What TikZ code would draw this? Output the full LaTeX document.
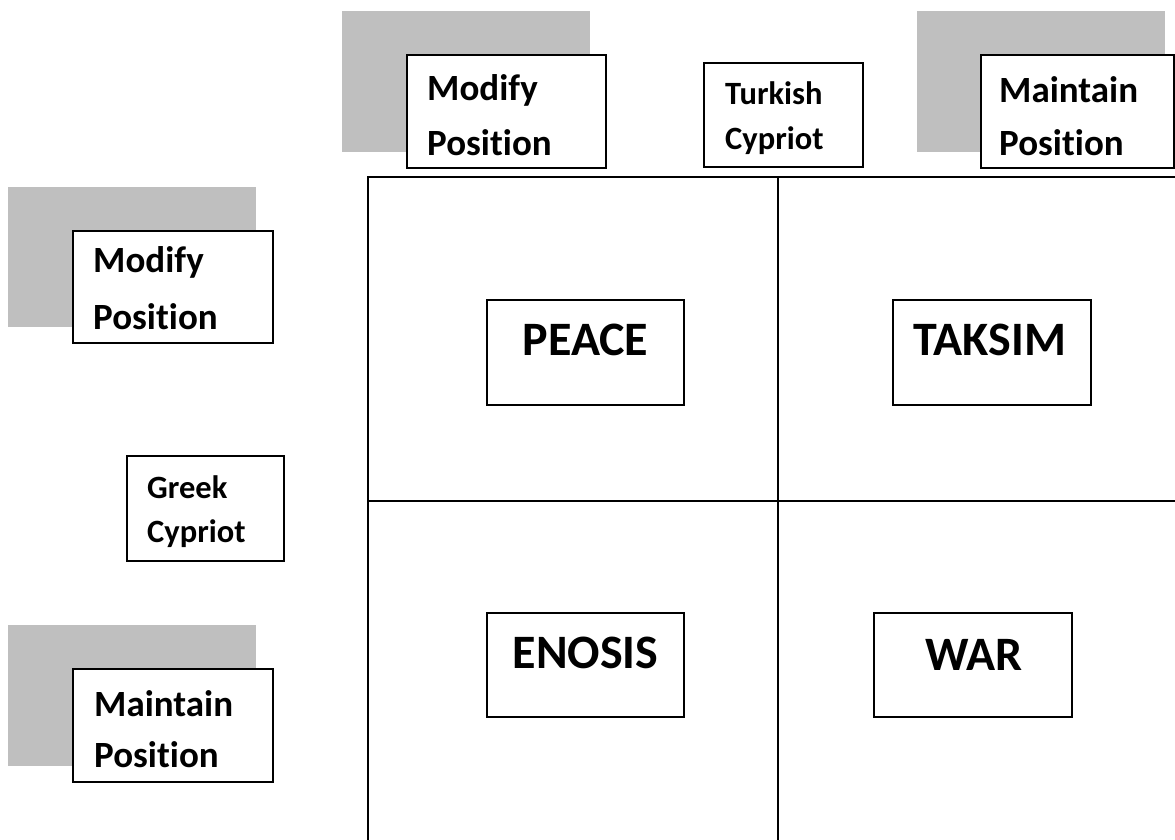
\documentclass[tikz,border=0pt]{standalone}
\usepackage{fontspec}
\setmainfont{Carlito}[Ligatures={NoCommon}]
\definecolor{shadegray}{RGB}{191,191,191}
\begin{document}
\begin{tikzpicture}[x=1pt,y=-1pt,
  backshade/.style={fill=shadegray, draw=none, inner sep=0pt, outer sep=0pt},
  box/.style={draw=black, line width=1.8pt, fill=white, inner sep=0pt, outer sep=0pt},
  gridline/.style={draw=black, line width=2.2pt},
  smalltxt/.style={font=\bfseries\fontsize{37}{42}\selectfont, inner sep=0pt, anchor=base west},
  tinytxt/.style={font=\bfseries\fontsize{32.5}{38}\selectfont, inner sep=0pt, anchor=base west},
  bigtxt/.style={font=\bfseries\fontsize{48}{54}\selectfont, inner sep=0pt, anchor=base}]
\useasboundingbox (0,0) rectangle (1175,839);
\clip (0,0) rectangle (1175,839);

% grey backing panels
\node[backshade, minimum width=248pt, minimum height=141pt] (s1) at (466,81.5) {};
\node[backshade, minimum width=248pt, minimum height=141pt] (s2) at (1041,81.5) {};
\node[backshade, minimum width=248pt, minimum height=140pt] (s3) at (132,257) {};
\node[backshade, minimum width=248pt, minimum height=141pt] (s4) at (132,695.5) {};

% the 2x2 outcome grid
\coordinate (gTL) at (368,177);
\coordinate (gTR) at (1185,177);
\coordinate (gBL) at (368,850);
\coordinate (gVt) at (778,177);
\coordinate (gVb) at (778,850);
\coordinate (gHl) at (368,501);
\coordinate (gHr) at (1185,501);
\draw[gridline] (gTR) -- (gTL) -- (gBL);
\draw[gridline] (gVt) -- (gVb);
\draw[gridline] (gHl) -- (gHr);

% position boxes
\node[box, minimum width=199pt, minimum height=113pt] (b1) at (506.5,111.5) {};
\node[box, minimum width=159pt, minimum height=104pt] (b2) at (783.5,115) {};
\node[box, minimum width=193pt, minimum height=113pt] (b3) at (1077.5,111.5) {};
\node[box, minimum width=200pt, minimum height=112pt] (b4) at (173,287) {};
\node[box, minimum width=157pt, minimum height=105pt] (b5) at (205.5,508.5) {};
\node[box, minimum width=200pt, minimum height=113pt] (b6) at (173,725.5) {};

\node[smalltxt] (b1a) at ([shift={(20,45)}]b1.north west) {Modify};
\node[smalltxt] (b1b) at ([shift={(20,100)}]b1.north west) {Position};
\node[tinytxt] (b2a) at ([shift={(21,41)}]b2.north west) {Turkish};
\node[tinytxt] (b2b) at ([shift={(21,86)}]b2.north west) {Cypriot};
\node[smalltxt] (b3a) at ([shift={(18,47)}]b3.north west) {Maintain};
\node[smalltxt] (b3b) at ([shift={(18,100)}]b3.north west) {Position};
\node[smalltxt] (b4a) at ([shift={(20,41)}]b4.north west) {Modify};
\node[smalltxt] (b4b) at ([shift={(20,98)}]b4.north west) {Position};
\node[tinytxt] (b5a) at ([shift={(20,42)}]b5.north west) {Greek};
\node[tinytxt] (b5b) at ([shift={(20,86)}]b5.north west) {Cypriot};
\node[smalltxt] (b6a) at ([shift={(21,47)}]b6.north west) {Maintain};
\node[smalltxt] (b6b) at ([shift={(21,98)}]b6.north west) {Position};

% outcome boxes
\node[box, minimum width=197pt, minimum height=105pt] (peace) at (585.5,352.5) {};
\node[box, minimum width=198pt, minimum height=105pt] (taksim) at (992,352.5) {};
\node[box, minimum width=197pt, minimum height=104pt] (enosis) at (585.5,665) {};
\node[box, minimum width=198pt, minimum height=104pt] (war) at (973,665) {};

\node[bigtxt] (peacet) at ([shift={(0,55)}]peace.north) {PEACE};
\node[bigtxt] (taksimt) at ([shift={(-2,55)}]taksim.north) {TAKSIM};
\node[bigtxt] (enosist) at ([shift={(0,55)}]enosis.north) {ENOSIS};
\node[bigtxt] (wart) at ([shift={(1,57)}]war.north) {WAR};
\end{tikzpicture}
\end{document}
